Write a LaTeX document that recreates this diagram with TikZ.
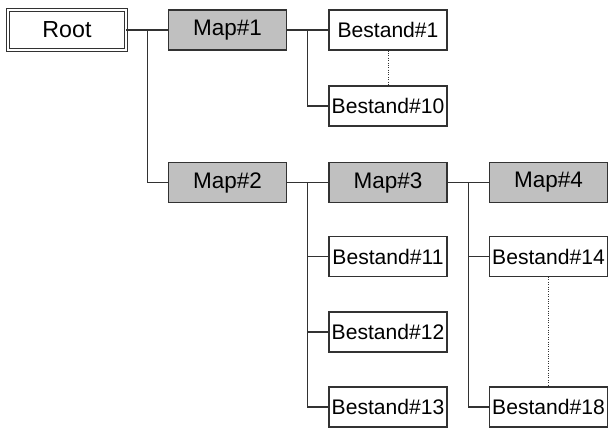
\documentclass[tikz,border=0pt]{standalone}
\usepackage{fontspec}
\setmainfont{Liberation Sans}
\usepackage{tikz}
\usetikzlibrary{positioning,calc}
\definecolor{mapgray}{RGB}{192,192,192}
\definecolor{linegray}{RGB}{50,50,50}
\tikzset{
  box/.style={rectangle, draw=linegray, line width=0.8pt, minimum width=2.95cm, minimum height=1cm, inner sep=1pt, align=center},
  rootbox/.style={box, double=white, double distance=1.3pt, line width=0.6pt, font=\fontsize{16.5}{18}\selectfont},
  mapbox/.style={box, fill=mapgray, font=\fontsize{16}{18}\selectfont},
  filebox/.style={box, fill=white, font=\fontsize{15}{17}\selectfont},
  link/.style={draw=linegray, line width=0.75pt},
  gap/.style={draw=linegray, line width=0.7pt, densely dotted}
}
\begin{document}
\begin{tikzpicture}[x=0.025cm, y=-0.025cm]
\useasboundingbox (0,0) rectangle (615,431);
% top row
\node[rootbox] (root) at (67,30) {Root};
\node[mapbox] (map1) at (227.5,30) {Map\#1};
\node[filebox] (b1) at (388,30) {Bestand\#1};
\node[filebox] (b10) at (388,106) {Bestand\#10};
% second level
\node[mapbox] (map2) at (227.5,182.5) {Map\#2};
\node[mapbox] (map3) at (388,182.5) {Map\#3};
\node[mapbox] (map4) at (548.5,182.5) {Map\#4};
\node[filebox] (b11) at (388,256.5) {Bestand\#11};
\node[filebox] (b12) at (388,332) {Bestand\#12};
\node[filebox] (b13) at (388,407) {Bestand\#13};
\node[filebox] (b14) at (548.5,256.5) {Bestand\#14};
\node[filebox] (b18) at (548.5,407) {Bestand\#18};
% junctions
\coordinate (j1) at ($(root.east)!0.5!(map1.west)$);
\coordinate (j2) at ($(map1.east)!0.5!(b1.west)$);
\coordinate (j3) at ($(map2.east)!0.5!(map3.west)$);
\coordinate (j4) at ($(map3.east)!0.5!(map4.west)$);
% connectors
\draw[link] (root.east) -- (map1.west);
\draw[link] (j1) |- (map2.west);
\draw[link] (map1.east) -- (b1.west);
\draw[link] (j2) |- (b10.west);
\draw[link] (map2.east) -- (map3.west);
\foreach \b in {b11,b12,b13}
  \draw[link] (j3) |- (\b.west);
\draw[link] (map3.east) -- (map4.west);
\foreach \b in {b14,b18}
  \draw[link] (j4) |- (\b.west);
\draw[gap] (b1.south) -- (b10.north);
\draw[gap] (b14.south) -- (b18.north);
\end{tikzpicture}
\end{document}
